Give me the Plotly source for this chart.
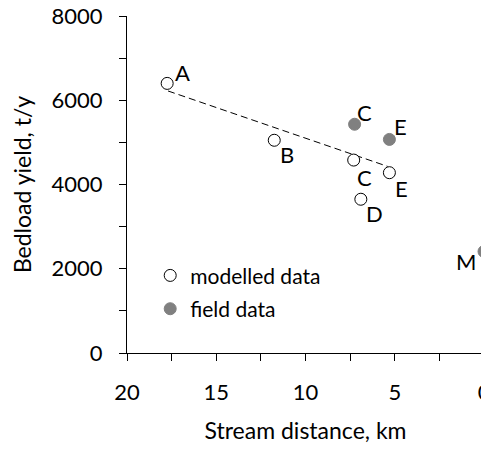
import plotly.graph_objects as go

# Modelled data
mod_labels = ["A", "B", "C", "E", "D"]
mod_dist = [17.75, 11.75, 7.3, 5.3, 6.9]
mod_yield = [6400, 5050, 4580, 4280, 3650]

# Field data
field_labels = ["C", "E", "M"]
field_dist = [7.25, 5.3, 0.0]
field_yield = [5430, 5070, 2410]

# Trend line (dashed)
trend_dist = [17.7, 5.4]
trend_yield = [6220, 4430]

FONT = "Lato"

fig = go.Figure()
fig.add_trace(go.Scatter(x=trend_dist, y=trend_yield, mode="lines",
                         line=dict(color="black", width=1, dash="7px,4px"),
                         showlegend=False, hoverinfo="skip"))
fig.add_trace(go.Scatter(x=mod_dist, y=mod_yield, mode="markers", name="modelled data",
                         marker=dict(size=12, color="white", line=dict(color="black", width=1)),
                         legendgroup="a"))
fig.add_trace(go.Scatter(x=field_dist, y=field_yield, mode="markers", name="field data",
                         marker=dict(size=12, color="#808080", line=dict(color="#808080", width=1)),
                         legendgroup="b", cliponaxis=False))

mod_shift = {"A": (15, 11), "B": (13, -14), "C": (11, -17), "E": (12, -16), "D": (14, -14)}
field_shift = {"C": (10, 12), "E": (11, 13), "M": (-18, -10)}
for lab, x, y in zip(mod_labels, mod_dist, mod_yield):
    dx, dy = mod_shift[lab]
    fig.add_annotation(x=x, y=y, text=lab, showarrow=False, xshift=dx, yshift=dy,
                       font=dict(size=22, color="black", family=FONT))
for lab, x, y in zip(field_labels, field_dist, field_yield):
    dx, dy = field_shift[lab]
    fig.add_annotation(x=x, y=y, text=lab, showarrow=False, xshift=dx, yshift=dy,
                       font=dict(size=22, color="black", family=FONT))

fig.update_layout(
    width=489, height=449,
    margin=dict(l=119, r=13, t=8, b=104, autoexpand=False),
    paper_bgcolor="white", plot_bgcolor="white",
    font=dict(family=FONT, size=22, color="black"),
    legend=dict(x=0.065, y=0.29, xanchor="left", yanchor="top", bgcolor="rgba(0,0,0,0)",
                font=dict(size=21), tracegroupgap=3, itemwidth=30),
)
fig.update_xaxes(range=[20, 0], autorange=False, automargin=False, tickmode="array",
                 tickvals=[20, 15, 10, 5, 0], ticks="outside", ticklen=7,
                 tickcolor="black", showline=True, linecolor="black", linewidth=1,
                 showgrid=False, zeroline=False, ticklabelstandoff=13, ticklabeloverflow="allow",
                 minor=dict(tickvals=[17.5, 12.5, 7.5, 2.5], ticks="outside", ticklen=7, tickcolor="black"),
                 title=dict(text="Stream distance, km", font=dict(size=23), standoff=18))
fig.update_yaxes(range=[0, 8000], autorange=False, automargin=False, tickmode="array",
                 tickvals=[0, 2000, 4000, 6000, 8000], ticks="outside", ticklen=7,
                 tickcolor="black", showline=True, linecolor="black", linewidth=1,
                 showgrid=False, zeroline=False, ticklabelstandoff=12, ticklabeloverflow="allow",
                 minor=dict(tickvals=[1000, 3000, 5000, 7000], ticks="outside", ticklen=7, tickcolor="black"),
                 title=dict(text="Bedload yield, t/y", font=dict(size=23), standoff=15))

fig.write_html("out.html")
